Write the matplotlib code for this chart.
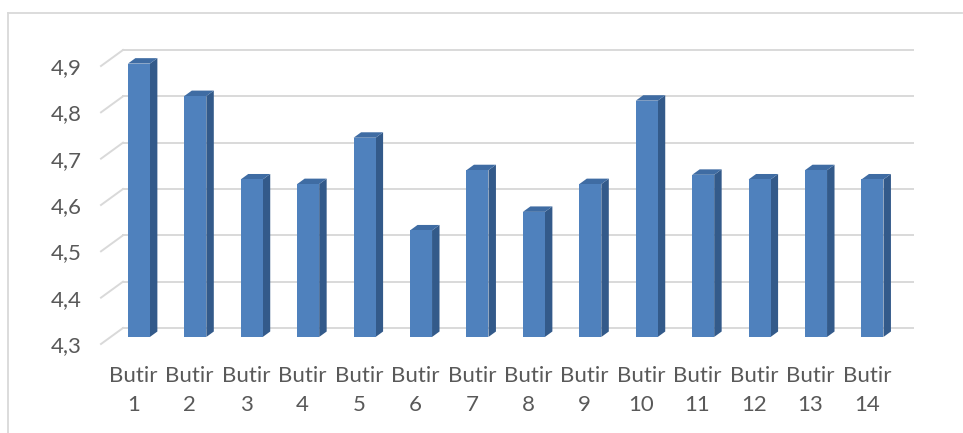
import matplotlib.pyplot as plt
from matplotlib.patches import Polygon
from matplotlib.transforms import ScaledTranslation
from matplotlib.lines import Line2D

# Nilai rata-rata tiap butir
butir = ["Butir\n1", "Butir\n2", "Butir\n3", "Butir\n4", "Butir\n5", "Butir\n6", "Butir\n7",
         "Butir\n8", "Butir\n9", "Butir\n10", "Butir\n11", "Butir\n12", "Butir\n13", "Butir\n14"]
nilai = [4.89, 4.82, 4.64, 4.63, 4.73, 4.53, 4.66, 4.57, 4.63, 4.81, 4.65, 4.64, 4.66, 4.64]
y_ticks = [4.3, 4.4, 4.5, 4.6, 4.7, 4.8, 4.9]
y_labels = ["4,3", "4,4", "4,5", "4,6", "4,7", "4,8", "4,9"]

plt.rcParams['font.family'] = ['Lato', 'DejaVu Sans']

W, H = 963, 433
fig = plt.figure(figsize=(W / 100, H / 100), dpi=100)
# bingkai chart
fig.add_artist(Line2D([8 / W, 8 / W], [0, 1 - 13 / H], color='#d9d9d9', lw=1.3))
fig.add_artist(Line2D([8 / W, 962 / W], [1 - 13 / H, 1 - 13 / H], color='#d9d9d9', lw=1.3))

# dinding belakang
ax = fig.add_axes([123 / W, 105 / H, 790 / W, 278 / H])
ax.set_xlim(0.5, 14.5)
ax.set_ylim(4.3, 4.9)
for s in ax.spines.values():
    s.set_visible(False)

# ukuran piksel dalam satuan data
px_x = 14 / 790
px_y = 0.6 / 278
dx, dy = -22 * px_x, -16 * px_y   # kedalaman (depan relatif ke belakang)

# garis grid dinding belakang + garis miring dinding kiri
for t in y_ticks:
    ax.plot([0.5, 14.5], [t, t], color='#d9d9d9', lw=1.4, zorder=1, clip_on=False)
    ax.plot([0.5, 0.5 + dx], [t, t + dy], color='#d9d9d9', lw=1.4, zorder=1, clip_on=False)

# batang 3D
w = 22 * px_x
f_depan, f_belakang = 0.56, 0.22
for i, v in enumerate(nilai, start=1):
    fx, fy = f_depan * dx, f_depan * dy
    bx, by = f_belakang * dx, f_belakang * dy
    x0, x1 = i - w / 2, i + w / 2
    y0 = 4.3
    depan = Polygon([(x0 + fx, y0 + fy), (x1 + fx, y0 + fy), (x1 + fx, v + fy), (x0 + fx, v + fy)],
                    closed=True, fc='#4f81bd', ec='none', zorder=3, clip_on=False)
    samping = Polygon([(x1 + fx, y0 + fy), (x1 + bx, y0 + by), (x1 + bx, v + by), (x1 + fx, v + fy)],
                      closed=True, fc='#335a8a', ec='none', zorder=2, clip_on=False)
    atas = Polygon([(x0 + fx, v + fy), (x1 + fx, v + fy), (x1 + bx, v + by), (x0 + bx, v + by)],
                   closed=True, fc='#3f6ca3', ec='none', zorder=2, clip_on=False)
    for p in (samping, atas, depan):
        ax.add_patch(p)

# label sumbu
ax.set_yticks(y_ticks)
ax.set_yticklabels(y_labels, fontsize=16, color='#595959')
ax.set_xticks(range(1, 15))
ax.set_xticklabels(butir, fontsize=16, color='#595959', linespacing=1.6)
ax.tick_params(axis='both', length=0)
ax.tick_params(axis='y', pad=14)
ax.tick_params(axis='x', pad=27)
off_y = ScaledTranslation(-22 / 100, -16 / 100, fig.dpi_scale_trans)
for lab in ax.get_yticklabels():
    lab.set_transform(lab.get_transform() + off_y)
off_x = ScaledTranslation(-18 / 100, 0, fig.dpi_scale_trans)
for lab in ax.get_xticklabels():
    lab.set_transform(lab.get_transform() + off_x)

fig.savefig("out.png", dpi=100)
